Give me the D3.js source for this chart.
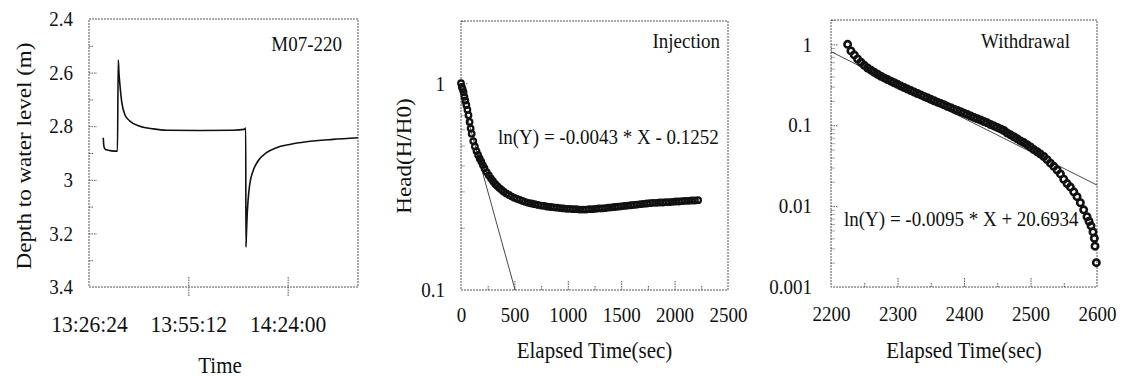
<!DOCTYPE html>
<html><head><meta charset="utf-8">
<script src="https://cdn.jsdelivr.net/npm/d3@7"></script>
<style>
body{margin:0;background:#fff;}
svg text{font-family:"Liberation Serif","Times New Roman",serif;fill:#111;}
.st{transform-box:fill-box;transform-origin:center;transform:scaleY(1.1);}
.sr{transform-box:fill-box;transform-origin:center;transform:scaleX(1.1);}
</style></head><body>
<svg id="chart" width="1121" height="377" font-family="Liberation Serif"></svg>
<script>
// ---------- Panel 1: depth to water level vs clock time ----------
const levelTimes = ["13:30:32","13:30:44","13:31:11","13:32:29","13:34:39","13:34:53","13:35:05","13:35:22","13:35:52","13:36:49","13:38:16","13:41:10","13:45:01","13:48:54","13:58:32","14:08:10","14:11:24","14:11:51","14:11:54","14:12:03","14:12:14","14:12:31","14:13:01","14:13:58","14:15:25","14:17:51","14:20:44","14:24:35","14:29:25","14:37:07","14:44:22"];
const levelDepths = [2.843,2.876,2.887,2.891,2.893,2.553,2.600,2.646,2.707,2.757,2.781,2.800,2.810,2.815,2.816,2.815,2.812,2.807,3.251,3.201,3.140,3.078,3.016,2.967,2.930,2.899,2.880,2.868,2.858,2.849,2.843];
const timeTicks = ["13:26:24","13:55:12","14:24:00"];
const timeDomain = ["13:26:24","14:44:24"];
const depthTicks = [2.4,2.6,2.8,3,3.2,3.4];
const depthMinorTicks = [2.5,2.7,2.9,3.1,3.3];
const wellLabel = "M07-220";

// ---------- Panel 2: injection, normalised head ----------
const injElapsed = [0,8,16,24,32,40,50,60,70,80,90,100,115,130,145,160,175,190,205,220,240,260,280,300,320,340,360,380,400,425,450,475,500,525,550,575,600,630,660,690,720,750,780,810,840,870,900,930,960,990,1020,1050,1080,1110,1140,1170,1200,1230,1260,1290,1320,1350,1380,1410,1440,1470,1500,1530,1560,1590,1620,1650,1680,1710,1740,1770,1800,1830,1860,1890,1920,1950,1980,2010,2040,2070,2100,2130,2160,2190,2220];
const injHead = [1.000,0.960,0.935,0.905,0.860,0.825,0.785,0.745,0.700,0.650,0.605,0.570,0.525,0.495,0.470,0.450,0.433,0.418,0.402,0.388,0.372,0.359,0.347,0.336,0.326,0.318,0.311,0.305,0.299,0.293,0.288,0.283,0.279,0.276,0.273,0.270,0.267,0.264,0.262,0.260,0.258,0.256,0.255,0.253,0.252,0.251,0.250,0.249,0.248,0.247,0.247,0.246,0.246,0.245,0.245,0.245,0.246,0.246,0.247,0.248,0.248,0.249,0.250,0.251,0.252,0.253,0.254,0.255,0.256,0.257,0.258,0.259,0.260,0.261,0.262,0.263,0.264,0.264,0.265,0.265,0.266,0.266,0.267,0.268,0.268,0.269,0.270,0.270,0.271,0.271,0.272];
const injFitSlope = -0.0043;
const injFitIntercept = -0.1252;
const injFitLabel = "ln(Y) = -0.0043 * X - 0.1252";
const injTitle = "Injection";
const injXTicks = [0,500,1000,1500,2000,2500];
const injXMinor = [250,750,1250,1750,2250];
const injYTicks = [0.1,1];

// ---------- Panel 3: withdrawal, normalised head ----------
const wdElapsed = [2225,2230,2235,2240,2245,2250,2255,2260,2265,2270,2275,2280,2285,2290,2295,2300,2305,2310,2315,2320,2325,2330,2335,2340,2345,2350,2355,2360,2365,2370,2375,2380,2385,2390,2395,2400,2405,2410,2415,2420,2425,2430,2435,2440,2445,2450,2455,2460,2465,2470,2475,2480,2485,2490,2495,2500,2505,2510,2515,2520,2525,2530,2535,2540,2545,2550,2555,2560,2565,2570,2575,2580,2585,2588,2591,2594,2596,2597,2599];
const wdHead = [1.00,0.83,0.74,0.66,0.60,0.55,0.51,0.48,0.452,0.427,0.403,0.385,0.367,0.351,0.335,0.320,0.305,0.292,0.280,0.268,0.257,0.247,0.237,0.227,0.218,0.209,0.201,0.193,0.186,0.179,0.171,0.165,0.158,0.152,0.147,0.141,0.136,0.130,0.125,0.120,0.116,0.111,0.107,0.102,0.098,0.094,0.090,0.086,0.080,0.076,0.072,0.068,0.064,0.061,0.0575,0.054,0.050,0.047,0.044,0.041,0.0375,0.034,0.031,0.028,0.025,0.0215,0.019,0.0172,0.015,0.0131,0.011,0.0090,0.0074,0.0065,0.0057,0.0048,0.0040,0.0032,0.0020];
const wdFitSlope = -0.0095;
const wdFitIntercept = 20.6934;
const wdFitLabel = "ln(Y) = -0.0095 * X + 20.6934";
const wdTitle = "Withdrawal";
const wdXTicks = [2200,2300,2400,2500,2600];
const wdXMinor = [2250,2350,2450,2550];
const wdYTicks = [0.001,0.01,0.1,1];

const xTitle = "Elapsed Time(sec)";

// ---------- drawing ----------
const FONT = "Liberation Serif";
const svg = d3.select("#chart");
const parseT = d3.timeParse("%H:%M:%S");
const frameStyle = g => g.attr("fill","none").attr("stroke","#555").attr("stroke-width",1).attr("stroke-dasharray","2,1");

function frame(p){
  svg.append("rect").attr("x",p.x0).attr("y",p.y0).attr("width",p.x1-p.x0).attr("height",p.y1-p.y0).call(frameStyle);
}
function styleTicks(g){
  g.select(".domain").remove();
  g.selectAll(".tick line").attr("stroke","#555").attr("stroke-dasharray","1.5,1");
}
function labelAxis(g, size){
  g.select(".domain").remove();
  g.selectAll(".tick line").remove();
  g.attr("font-family",FONT).attr("font-size",size);
  g.selectAll(".tick text").attr("font-size",size).attr("font-family",FONT).attr("fill","#111").attr("class","st");
}
function hText(x,y,txt,size,anchor){
  svg.append("text").attr("x",x).attr("y",y).attr("font-size",size).attr("font-family",FONT).attr("text-anchor",anchor||"start").attr("class","st").text(txt);
}
function vText(cx,cy,txt,size){
  svg.append("g").attr("transform",`translate(${cx},${cy}) rotate(-90)`)
    .append("text").attr("text-anchor","middle").attr("dy","0.35em").attr("font-size",size).attr("font-family",FONT).attr("class","sr").text(txt);
}

// Panel 1
{
  const p = {x0:89,x1:358,y0:19,y1:287};
  const x = d3.scaleTime().domain(timeDomain.map(parseT)).range([p.x0,p.x1]);
  const y = d3.scaleLinear().domain([2.4,3.4]).range([p.y0,p.y1]);
  frame(p);
  svg.append("g").attr("transform",`translate(${p.x0},0)`).call(d3.axisRight(y).tickValues(depthTicks.slice(1,-1)).tickSize(8).tickFormat("")).call(styleTicks);
  svg.append("g").attr("transform",`translate(${p.x0},0)`).call(d3.axisRight(y).tickValues(depthMinorTicks).tickSize(4).tickFormat("")).call(styleTicks);
  svg.append("g").attr("transform",`translate(0,${p.y1-10})`).call(d3.axisBottom(x).tickValues(timeTicks.slice(1).map(parseT)).tickSize(19).tickFormat("")).call(styleTicks);
  svg.append("g").attr("transform",`translate(${p.x0},0)`).call(d3.axisLeft(y).tickValues(depthTicks).tickSize(0).tickPadding(16).tickFormat(d=>String(d))).call(g=>labelAxis(g,19));
  svg.append("g").attr("transform",`translate(0,${p.y1})`).call(d3.axisBottom(x).tickValues(timeTicks.map(parseT)).tickSize(0).tickPadding(29).tickFormat(d3.timeFormat("%H:%M:%S"))).call(g=>labelAxis(g,21.5));
  const pts = levelTimes.map((t,i)=>[parseT(t),levelDepths[i]]);
  svg.append("path").datum(pts).attr("fill","none").attr("stroke","#111").attr("stroke-width",1.6)
    .attr("d",d3.line().x(d=>x(d[0])).y(d=>y(d[1])).curve(d3.curveMonotoneX));
  hText(342,50,wellLabel,19,"end");
  vText(24,156,"Depth to water level (m)",21);
  hText(220,372,"Time",21,"middle");
}

function logPanel(p, xDom, yDom, xs, ys, slope, icpt, xTicks, xMinor, yTicks, fitLabel, fitPos, title, r, sw){
  const x = d3.scaleLinear().domain(xDom).range([p.x0,p.x1]);
  const y = d3.scaleLog().domain(yDom).range([p.y1,p.y0]);
  frame(p);
  const yMinor = y.ticks().filter(v=>!yTicks.some(t=>Math.abs(t-v)/t<1e-6));
  svg.append("g").attr("transform",`translate(${p.x0},0)`).call(d3.axisRight(y).tickValues(yTicks.slice(1)).tickSize(7).tickFormat("")).call(styleTicks);
  svg.append("g").attr("transform",`translate(${p.x0},0)`).call(d3.axisRight(y).tickValues(yMinor).tickSize(3.5).tickFormat("")).call(styleTicks);
  svg.append("g").attr("transform",`translate(0,${p.y1})`).call(d3.axisTop(x).tickValues(xTicks.slice(1,-1)).tickSize(9).tickFormat("")).call(styleTicks);
  svg.append("g").attr("transform",`translate(0,${p.y1})`).call(d3.axisTop(x).tickValues(xMinor.filter(v=>v<xDom[1])).tickSize(4).tickFormat("")).call(styleTicks);
  svg.append("g").attr("transform",`translate(${p.x0},0)`).call(d3.axisLeft(y).tickValues(yTicks).tickSize(0).tickPadding(p.yPad).tickFormat(d=>String(d))).call(g=>labelAxis(g,19));
  svg.append("g").attr("transform",`translate(0,${p.y1})`).call(d3.axisBottom(x).tickValues(xTicks).tickSize(0).tickPadding(p.xPad).tickFormat(d=>String(d))).call(g=>labelAxis(g,19));
  // fit line, clipped to the y-domain
  let xa = xDom[0], xb = xDom[1];
  const fy = v=>Math.exp(slope*v+icpt);
  if (fy(xb) < yDom[0]) xb = (Math.log(yDom[0])-icpt)/slope;
  if (fy(xa) > yDom[1]) xa = (Math.log(yDom[1])-icpt)/slope;
  svg.append("line").attr("x1",x(xa)).attr("y1",y(fy(xa))).attr("x2",x(xb)).attr("y2",y(fy(xb)))
    .attr("stroke","#333").attr("stroke-width",0.9);
  svg.append("g").selectAll("circle").data(xs.map((v,i)=>[v,ys[i]])).join("circle")
    .attr("cx",d=>x(d[0])).attr("cy",d=>y(d[1])).attr("r",r)
    .attr("fill","none").attr("stroke","#111").attr("stroke-width",sw);
  hText(fitPos[0],fitPos[1],fitLabel,19,"start");
  hText(title[1],title[2],title[0],19,"end");
  hText((p.x0+p.x1)/2,357,xTitle,21,"middle");
}

logPanel({x0:461,x1:728,y0:21,y1:290,yPad:16,xPad:17.5},[0,2500],[0.1,2],injElapsed,injHead,injFitSlope,injFitIntercept,
  injXTicks,injXMinor,injYTicks,injFitLabel,[498,143],[injTitle,720,47],2.8,2.2);
vText(404,156,"Head(H/H0)",21);

logPanel({x0:831,x1:1097,y0:20,y1:287,yPad:19,xPad:19.5},[2200,2600],[0.001,2],wdElapsed,wdHead,wdFitSlope,wdFitIntercept,
  wdXTicks,wdXMinor,wdYTicks,wdFitLabel,[844,225],[wdTitle,1070,47],3.2,2.6);
</script>
</body></html>
